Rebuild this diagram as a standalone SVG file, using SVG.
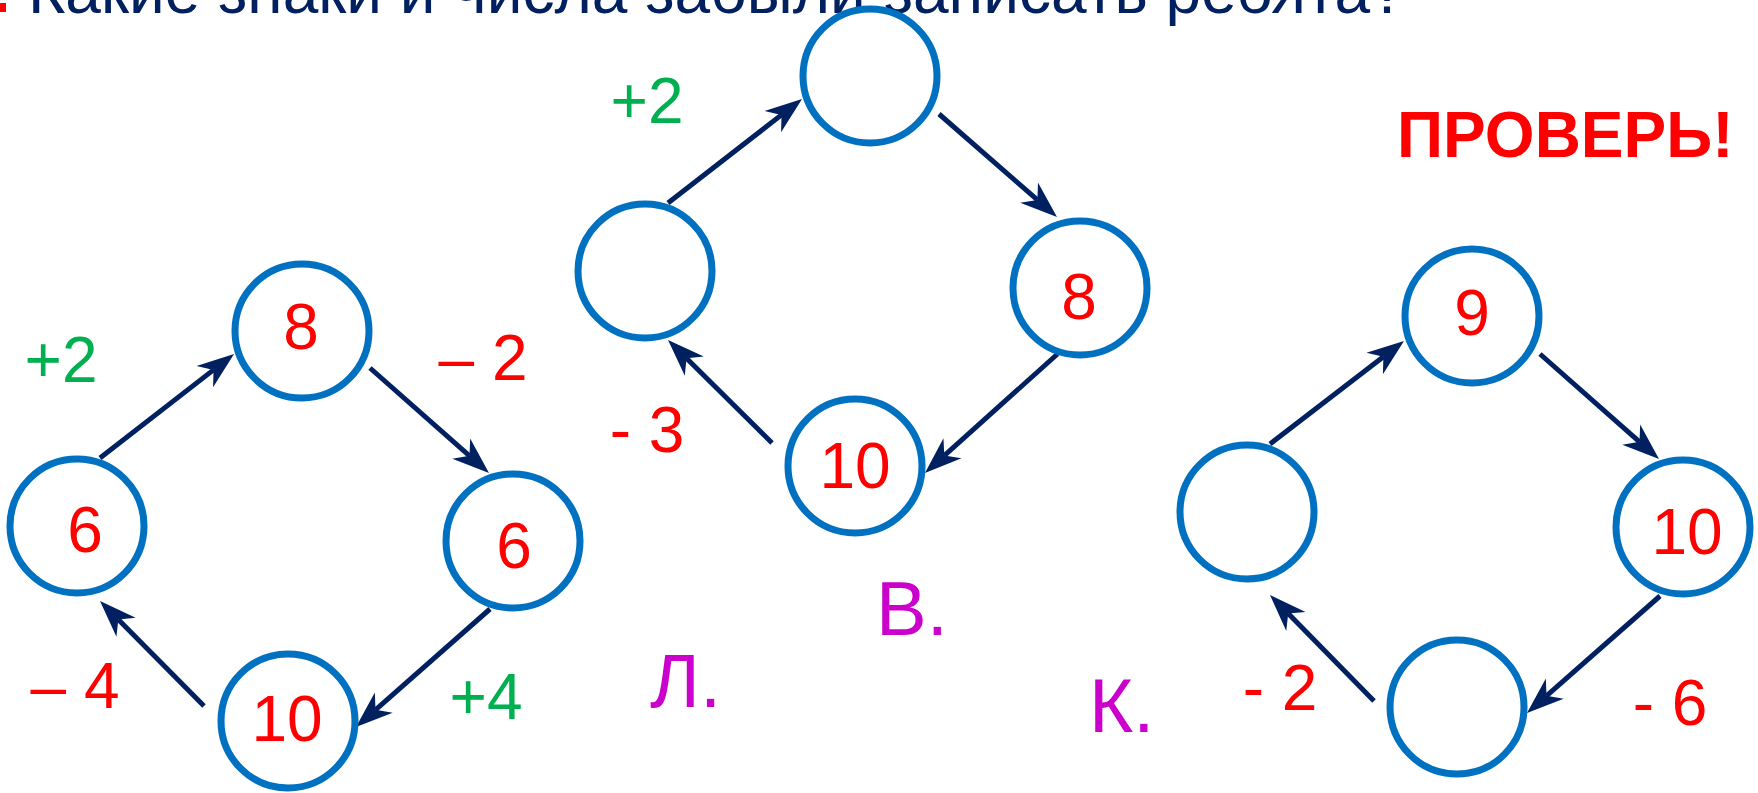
<svg xmlns="http://www.w3.org/2000/svg" width="1758" height="793" viewBox="0 0 1758 793">
<style>
.c{fill:#fff;stroke:#0070C0;stroke-width:7}
.n{font-family:"Liberation Sans",Arial,sans-serif;font-size:64px;fill:#FF0000;text-anchor:middle}
.g{font-family:"Liberation Sans",Arial,sans-serif;font-size:64px;fill:#00B050;text-anchor:middle}
.r{font-family:"Liberation Sans",Arial,sans-serif;font-size:64px;fill:#FF0000;text-anchor:middle}
.m{font-family:"Liberation Sans",Arial,sans-serif;font-size:76px;fill:#CC00CC}
.a{stroke:#002060;stroke-width:5;fill:none;marker-end:url(#ah)}
</style>
<defs>
<marker id="ah" markerUnits="userSpaceOnUse" markerWidth="80" markerHeight="80" refX="0" refY="0" orient="auto" overflow="visible">
<path d="M26,0 L-11,-13.5 L0,0 L-11,13.5 Z" fill="#002060"/>
</marker>
</defs>
<rect x="0" y="3" width="6" height="9" fill="#FF0000"/>
<text x="28" y="13" style="font-family:'Liberation Sans',Arial,sans-serif;font-size:64px;fill:#002060">Какие знаки и числа забыли записать ребята?</text>
<text x="1397" y="157" style="font-family:'Liberation Sans',Arial,sans-serif;font-size:64px;font-weight:bold;fill:#FF0000">ПРОВЕРЬ!</text>

<g id="connectors">
<line class="a" x1="100" y1="458" x2="213.5" y2="369.9"/>
<line class="a" x1="370" y1="368" x2="469.5" y2="455.8"/>
<line class="a" x1="490" y1="609" x2="375.5" y2="709.8"/>
<line class="a" x1="204" y1="706" x2="118.3" y2="619.5"/>
<line class="a" x1="668" y1="203" x2="781.5" y2="114.9"/>
<line class="a" x1="939" y1="114" x2="1037.4" y2="199.9"/>
<line class="a" x1="1057.5" y1="354" x2="944.3" y2="455.6"/>
<line class="a" x1="772" y1="443" x2="686.5" y2="358.3"/>
<line class="a" x1="1270" y1="444" x2="1383.4" y2="356.8"/>
<line class="a" x1="1540" y1="354" x2="1639.5" y2="441.8"/>
<line class="a" x1="1660" y1="596" x2="1546.5" y2="695.8"/>
<line class="a" x1="1374" y1="701" x2="1288.2" y2="613.6"/>
</g>

<g id="L-n6a"><circle class="c" cx="77" cy="526" r="67"/><text class="n" x="85" y="552">6</text></g>
<g id="L-n8"><circle class="c" cx="302" cy="331" r="67"/><text class="n" x="301" y="349">8</text></g>
<g id="L-n6b"><circle class="c" cx="513" cy="541" r="67"/><text class="n" x="514" y="568">6</text></g>
<g id="L-n10"><circle class="c" cx="288" cy="721" r="67"/><text class="n" x="287" y="741">10</text></g>
<g id="L-labels">
<text class="g" x="61" y="382">+2</text>
<text class="r" x="483" y="380">– 2</text>
<text class="r" x="75" y="708">– 4</text>
<text class="g" x="486" y="719">+4</text>
<text class="m" x="650" y="707">Л.</text>
</g>

<g id="V-top"><circle class="c" cx="870" cy="76" r="67"/></g>
<g id="V-left"><circle class="c" cx="645" cy="271" r="67"/></g>
<g id="V-n8"><circle class="c" cx="1080" cy="288" r="67"/><text class="n" x="1079" y="319">8</text></g>
<g id="V-n10"><circle class="c" cx="855" cy="466" r="67"/><text class="n" x="855" y="488">10</text></g>
<g id="V-labels">
<text class="g" x="647" y="123">+2</text>
<text class="r" x="647" y="452">- 3</text>
<text class="m" x="876" y="635">В.</text>
</g>

<g id="K-n9"><circle class="c" cx="1472" cy="316" r="67"/><text class="n" x="1472" y="335">9</text></g>
<g id="K-left"><circle class="c" cx="1247" cy="512" r="67"/></g>
<g id="K-n10"><circle class="c" cx="1683" cy="527" r="67"/><text class="n" x="1687" y="554">10</text></g>
<g id="K-bottom"><circle class="c" cx="1457" cy="707" r="67"/></g>
<g id="K-labels">
<text class="r" x="1280" y="710">- 2</text>
<text class="r" x="1670" y="725">- 6</text>
<text class="m" x="1089" y="732">К.</text>
</g>
</svg>
